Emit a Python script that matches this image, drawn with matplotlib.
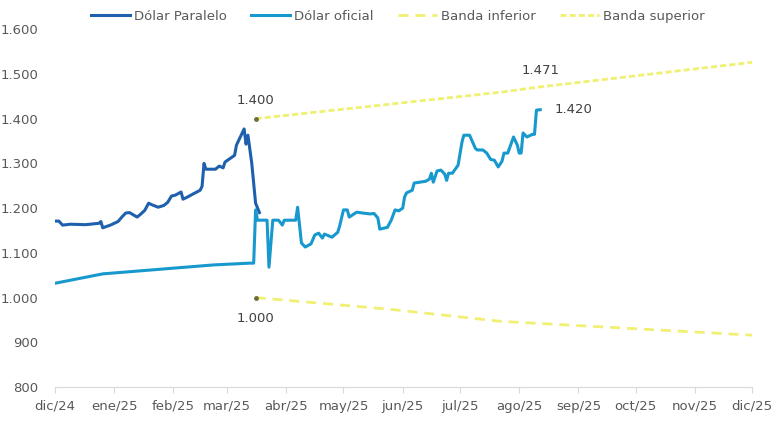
import numpy as np
import pandas as pd
import matplotlib
matplotlib.use("Agg")
import matplotlib.pyplot as plt
from matplotlib.ticker import FuncFormatter

# dias desde el 01/12/2024
base = pd.Timestamp("2024-12-01")

paralelo_dias = [0, 2, 4, 8, 16, 23, 24, 25, 29, 33, 35, 37, 39, 43, 45, 47, 49, 51,
                 54, 57, 59, 61, 63, 66, 67, 69, 72, 76, 77, 78, 79, 84, 86, 88, 89,
                 92, 94, 95, 97, 99, 100, 101, 103, 105, 107]
paralelo_val = [1171, 1171, 1162, 1164, 1163, 1166, 1170, 1156, 1162, 1170, 1180, 1189,
                1190, 1180, 1187, 1195, 1211, 1207, 1202, 1206, 1213, 1227, 1229, 1236,
                1220, 1224, 1231, 1240, 1249, 1300, 1287, 1287, 1294, 1290, 1303, 1312,
                1318, 1341, 1359, 1377, 1343, 1363, 1300, 1211, 1190]

oficial_dias = [0, 25, 83, 102, 104, 105, 106, 111, 112, 114, 117, 119, 120, 126, 127,
                129, 131, 134, 136, 138, 140, 141, 145, 148, 149, 151, 153, 154, 158,
                161, 165, 167, 169, 170, 172, 174, 176, 178, 180, 182, 183, 184, 187,
                188, 191, 194, 196, 197, 198, 200, 202, 204, 205, 206, 208, 211, 213,
                214, 217, 220, 221, 224, 226, 228, 230, 232, 234, 235, 237, 240, 242,
                243, 244, 245, 247, 250, 251, 252, 254]
oficial_val = [1032, 1053, 1073, 1077, 1077, 1196, 1173, 1173, 1068, 1173, 1173, 1162,
               1173, 1173, 1202, 1122, 1113, 1120, 1140, 1144, 1133, 1142, 1135, 1146,
               1160, 1196, 1196, 1180, 1191, 1189, 1187, 1188, 1178, 1153, 1155, 1157,
               1173, 1196, 1194, 1200, 1225, 1234, 1240, 1256, 1258, 1260, 1265, 1278,
               1258, 1283, 1285, 1276, 1262, 1278, 1278, 1296, 1347, 1363, 1363, 1334,
               1330, 1330, 1323, 1309, 1307, 1292, 1305, 1323, 1323, 1359, 1341, 1323,
               1323, 1368, 1359, 1365, 1365, 1419, 1420]

banda_sup_dias = [105, 233, 254, 365]
banda_sup_val = [1400, 1459, 1471, 1526]
banda_inf_dias = [105, 175, 233, 365]
banda_inf_val = [1000, 974, 947, 916]

meses = ["dic/24", "ene/25", "feb/25", "mar/25", "abr/25", "may/25", "jun/25",
         "jul/25", "ago/25", "sep/25", "oct/25", "nov/25", "dic/25"]


def to_dates(dias):
    return base + pd.to_timedelta(dias, unit="D")


c_par = "#1F60AE"
c_of = "#1799CE"
c_band = "#F0F072"
c_txt = "#595959"

plt.rcParams["font.family"] = ["DejaVu Sans"]
fig = plt.figure(figsize=(7.8, 4.23), dpi=100)
ax = fig.add_axes([0.0705, 0.085, 0.894, 0.846])

ax.plot(to_dates(paralelo_dias), paralelo_val, color=c_par, lw=2.2,
        label="Dólar Paralelo", solid_joinstyle="round")
ax.plot(to_dates(oficial_dias), oficial_val, color=c_of, lw=2.2,
        label="Dólar oficial", solid_joinstyle="round")
ax.plot(to_dates(banda_inf_dias), banda_inf_val, color=c_band, lw=2.0,
        dashes=(3.6, 2.5), label="Banda inferior")
ax.plot(to_dates(banda_sup_dias), banda_sup_val, color=c_band, lw=2.0,
        dashes=(2.2, 1.1), label="Banda superior")

# puntos de inicio de las bandas
ax.plot(to_dates([banda_sup_dias[0], banda_inf_dias[0]]),
        [banda_sup_val[0], banda_inf_val[0]], "o", color="#6E6E3A", ms=2.5, zorder=5)


def fmt_miles(v):
    return f"{v:,.0f}".replace(",", ".")


tk = dict(fontsize=9.5, color="#404040")
d0 = to_dates([banda_sup_dias[0]])[0]
ax.annotate(fmt_miles(banda_sup_val[0]), (d0, banda_sup_val[0]), xytext=(0, 13),
            textcoords="offset points", ha="center", va="center", **tk)
ax.annotate(fmt_miles(banda_inf_val[0]), (d0, banda_inf_val[0]), xytext=(0, -15),
            textcoords="offset points", ha="center", va="center", **tk)
d_fin = to_dates([oficial_dias[-1]])[0]
ax.annotate(fmt_miles(banda_sup_val[2]), (d_fin, banda_sup_val[2]), xytext=(0, 12),
            textcoords="offset points", ha="center", va="center", **tk)
ax.annotate(fmt_miles(oficial_val[-1]), (d_fin, oficial_val[-1]), xytext=(10, 0),
            textcoords="offset points", ha="left", va="center", **tk)

ax.set_ylim(800, 1600)
ax.set_yticks(np.arange(800, 1601, 100))
ax.yaxis.set_major_formatter(FuncFormatter(lambda v, p: fmt_miles(v)))

ticks = pd.date_range("2024-12-01", "2025-12-01", freq="MS")
ax.set_xlim(ticks[0], ticks[-1])
ax.set_xticks(ticks)
ax.set_xticklabels(meses)

for s in ["top", "right", "left"]:
    ax.spines[s].set_visible(False)
ax.spines["bottom"].set_color("#D9D9D9")
ax.tick_params(axis="x", length=4, color="#D9D9D9", labelsize=9.5,
               labelcolor=c_txt, pad=5)
ax.tick_params(axis="y", length=0, labelsize=9.5, labelcolor=c_txt, pad=12)

fig.legend(loc="upper center", bbox_to_anchor=(0.51, 1.005), ncol=4, frameon=False,
           fontsize=9.5, labelcolor=c_txt, handlelength=3.0, handletextpad=0.3,
           columnspacing=1.8)

fig.savefig("out.png", dpi=100)
